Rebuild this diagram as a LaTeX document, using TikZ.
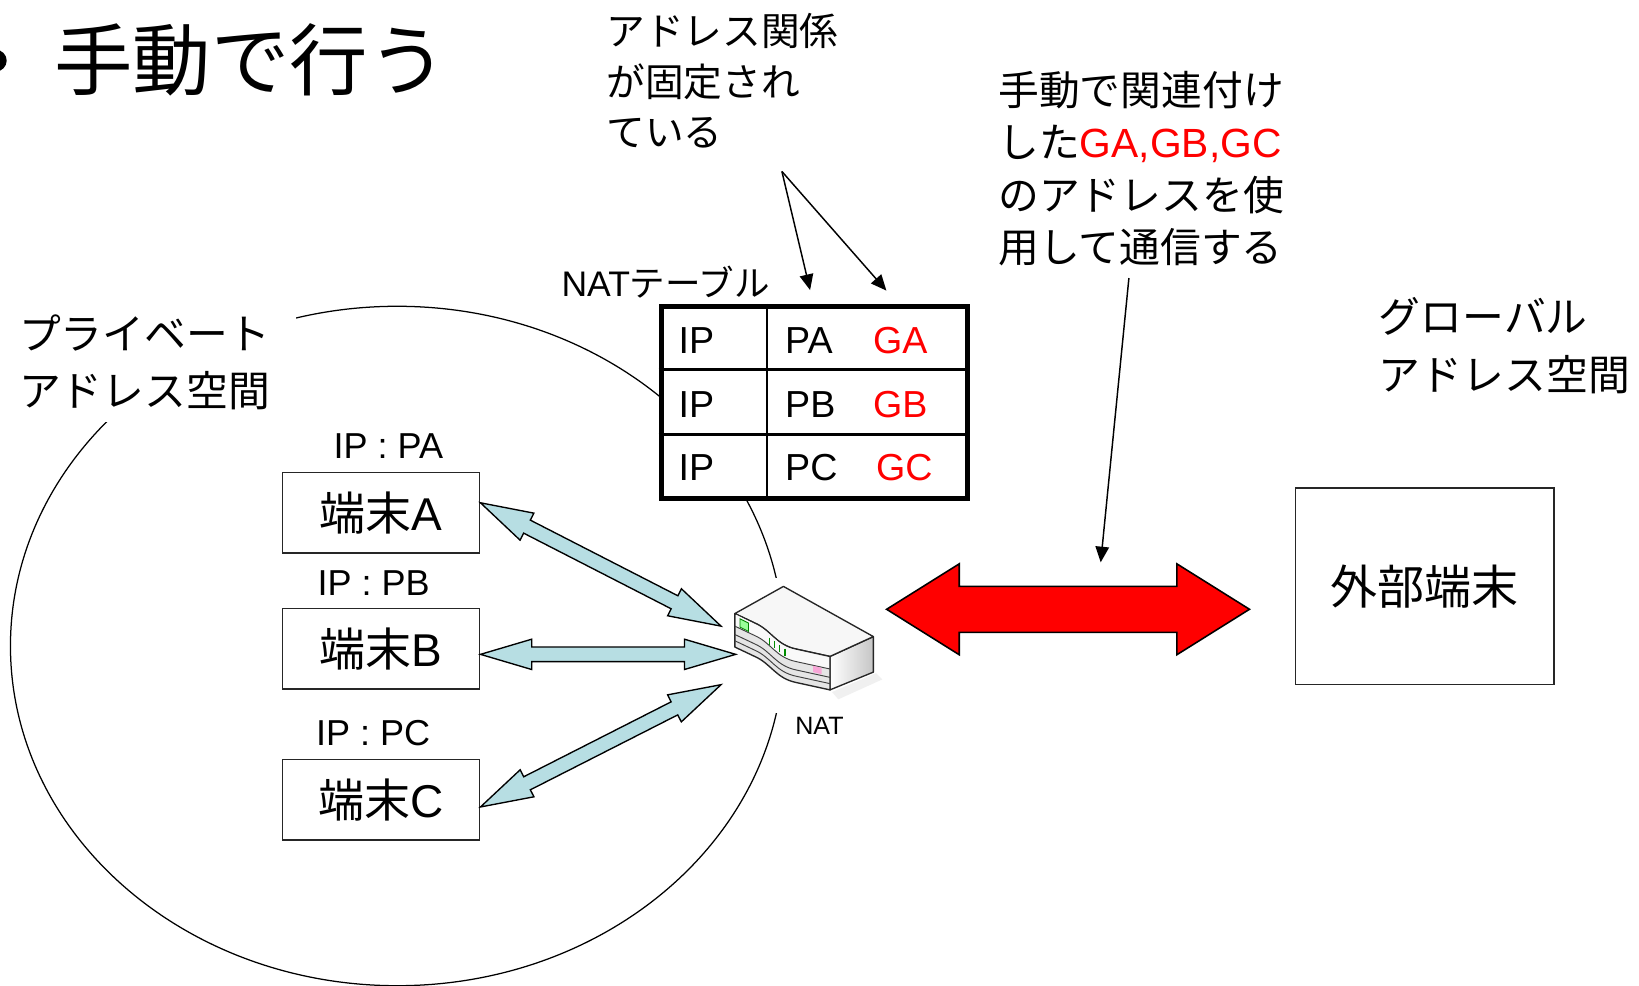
\documentclass[tikz,border=0pt]{standalone}
\usepackage{fontspec}
\setmainfont{Liberation Sans}
\newfontfamily\jp{Noto Sans CJK JP}
\usetikzlibrary{calc,arrows.meta}

\definecolor{linkblue}{HTML}{B7DEE3}
\definecolor{natred}{RGB}{255,0,0}

\newcommand\fs[2]{\fontsize{#1}{#2}\selectfont}

% block double arrow: style, start, end, head length, head half-width, shaft half-width
\newcommand\fatarrow[6]{%
  \coordinate (fas) at (#2);
  \coordinate (fae) at (#3);
  \coordinate (fa1) at ($(fas)!#4!(fae)$);
  \coordinate (fa2) at ($(fae)!#4!(fas)$);
  \path[#1] (fas) -- ($(fa1)!#5!90:(fae)$) -- ($(fa1)!#6!90:(fae)$)
    -- ($(fa2)!#6!-90:(fas)$) -- ($(fa2)!#5!-90:(fas)$) -- (fae)
    -- ($(fa2)!#5!90:(fas)$) -- ($(fa2)!#6!90:(fas)$)
    -- ($(fa1)!#6!-90:(fae)$) -- ($(fa1)!#5!-90:(fae)$) -- cycle;
}

\tikzset{
  termbox/.style={draw=black!85, line width=1.3pt, minimum width=189pt,
    minimum height=77pt, inner sep=0pt, font=\fs{44}{50}},
  iplabel/.style={anchor=base, inner sep=0pt, font=\fs{34.5}{38}},
  note/.style={anchor=base west, align=left, inner sep=0pt},
  cell/.style={anchor=base west, inner sep=0pt, font=\fs{36}{40}},
  pointer/.style={line width=1.4pt, -{Triangle[length=15pt,width=13pt]}},
  linkarrow/.style={draw=black, line width=1.3pt, fill=linkblue, line join=miter},
  bigarrow/.style={draw=black, line width=1.5pt, fill=natred, line join=miter},
  router/.style={draw=black!85, line width=1.3pt, line join=round},
}

\begin{document}
\begin{tikzpicture}[x=1pt,y=-1pt]
\useasboundingbox (0,0) rectangle (1568,943);
\clip (0,0) rectangle (1568,943);

% heading
\fill (-4,58) circle[radius=10.4pt];
\node[note, font=\fs{75}{90}\jp] (title) at (52,85.5) {手動で行う};

% private address space (multi-line nodes are placed by their last baseline)
\draw[line width=1.2pt] (380,618) ellipse[x radius=370pt, y radius=325pt];
\node[note, font=\fs{40}{54.5}\jp, fill=white, inner xsep=25pt, inner ysep=12pt]
  (priv) at (-7,388.5) {プライベート\\アドレス空間};

% global address space
\node[note, font=\fs{40}{56}\jp] (glob) at (1319,374) {グローバル\\アドレス空間};

% NAT table
\node[note, font=\fs{34}{40}] (tbllbl) at (537,284) {NAT{\jp テーブル}};
\node[draw=black, line width=4.8pt, fill=white, minimum width=293.5pt,
  minimum height=183.3pt, inner sep=0pt] (tbl) at (779.25,384.85) {};
\draw[line width=2.4pt] ($(tbl.north west)!0.347!(tbl.north east)$) -- ($(tbl.south west)!0.347!(tbl.south east)$);
\draw[line width=2.4pt] ($(tbl.north west)!0.332!(tbl.south west)$) -- ($(tbl.north east)!0.332!(tbl.south east)$);
\draw[line width=2.4pt] ($(tbl.north west)!0.664!(tbl.south west)$) -- ($(tbl.north east)!0.664!(tbl.south east)$);
\node[cell] (ip1) at (649,338) {IP};
\node[cell] (ip2) at (649,399) {IP};
\node[cell] (ip3) at (649,459.5) {IP};
\node[cell] (pa) at (751,338) {PA};
\node[cell] (pb) at (751,399) {PB};
\node[cell] (pc) at (751,459.5) {PC};
\node[cell, text=natred] (ga) at (835,338) {GA};
\node[cell, text=natred] (gb) at (835,399) {GB};
\node[cell, text=natred] (gc) at (838,459.5) {GC};

% notes with pointers
\node[note, font=\fs{37}{48}\jp] (fixed) at (580,140) {アドレス関係\\が固定され\\ている};
\node[note, font=\fs{39}{50}\jp] (manual) at (955,251)
  {手動で関連付け\\した\textcolor{natred}{\rmfamily GA,GB,GC}\\のアドレスを使\\用して通信する};
\coordinate (fixedtail) at (748,164);
\coordinate (tipPA) at (775,277.5);
\coordinate (tipGA) at (848,278);
\draw[pointer] (fixedtail) -- (tipPA);
\draw[pointer] (fixedtail) -- (tipGA);
\coordinate (manualtail) at (1080,266);
\coordinate (tipLink) at (1053,538);
\draw[pointer] (manualtail) -- (tipLink);

% terminals
\node[iplabel] (ipA) at (371.5,439) {IP : PA};
\node[iplabel] (ipB) at (357.5,570) {IP : PB};
\node[iplabel] (ipC) at (357,713) {IP : PC};
\node[termbox] (tA) at (364.5,490.5) {{\jp 端末}A};
\node[termbox] (tB) at (364.5,620.5) {{\jp 端末}B};
\node[termbox] (tC) at (364.5,765) {{\jp 端末}C};

% external terminal
\node[termbox, minimum width=247pt, minimum height=188pt, font=\fs{45}{50}\jp]
  (ext) at (1363,561) {外部端末};

% NAT router
\node[fill=white, inner sep=0pt, minimum width=152pt, minimum height=129pt] (nat) at (772,617.5) {};
\fill[black!6] (796,662) -- (838,644) -- (844,650) -- (802,669) -- cycle;
\path[router, left color=white, right color=gray!45]
  (794,628) -- (835.5,609) -- (835.5,643) -- (794,660) -- cycle;
\path[router, fill=gray!6]
  (703,587) -- (749.5,561) -- (835.5,609) -- (794,628) -- (762,621)
  .. controls (742,617) and (738,603) .. (722,596) -- cycle;
\path[router, fill=gray!20]
  (703,587) -- (722,596) .. controls (738,603) and (742,617) .. (762,621) -- (794,628)
  -- (794,660) -- (762,653) .. controls (742,649) and (738,635) .. (722,628) -- (703,619) -- cycle;
\fill[gray!5]
  (704,588) -- (722,597) .. controls (738,604) and (742,618) .. (762,622) -- (793,629)
  -- (793,640) -- (762,633) .. controls (742,629) and (738,615) .. (722,608) -- (704,599) -- cycle;
\foreach \dy in {12,20,26}
  \draw[black!75, line width=0.9pt]
    (703,587+\dy) -- (722,596+\dy) .. controls (738,603+\dy) and (742,617+\dy) .. (762,621+\dy) -- (794,628+\dy);
\filldraw[fill=green!40!white, draw=green!50!black, line width=0.8pt]
  (708,592) -- (716,596) -- (716,604) -- (708,600) -- cycle;
\foreach \x/\y in {736/610,741/613,746/617,751/620.5}
  \draw[green!55!black, line width=1pt] (\x,\y) -- (\x,\y+7);
\fill[magenta!35] (778,637) -- (786,639) -- (786,645) -- (778,643) -- cycle;
\node[anchor=base, inner sep=0pt, font=\fs{24}{28}] (natlbl) at (784,702.5) {NAT};

% links between terminals and the NAT box
\fatarrow{linkarrow}{$(tA.east)+(0,-9.5)$}{$(nat.west)+(-6,-18.5)$}{50pt}{14.5pt}{7pt}
\fatarrow{linkarrow}{$(tB.east)+(0,5.5)$}{$(nat.west)+(8,8.5)$}{49pt}{14.5pt}{7pt}
\fatarrow{linkarrow}{$(tC.east)+(0,7)$}{$(nat.west)+(-6,37.5)$}{50pt}{14.5pt}{7pt}

% link between NAT and the external terminal
\coordinate (redL) at ($(nat.north east)!0.2325!(nat.south east)$);
\coordinate (redR) at ($(ext.west |- redL)+(-43.5,0)$);
\fatarrow{bigarrow}{redL}{redR}{69.5pt}{43.5pt}{22pt}
\end{tikzpicture}
\end{document}
